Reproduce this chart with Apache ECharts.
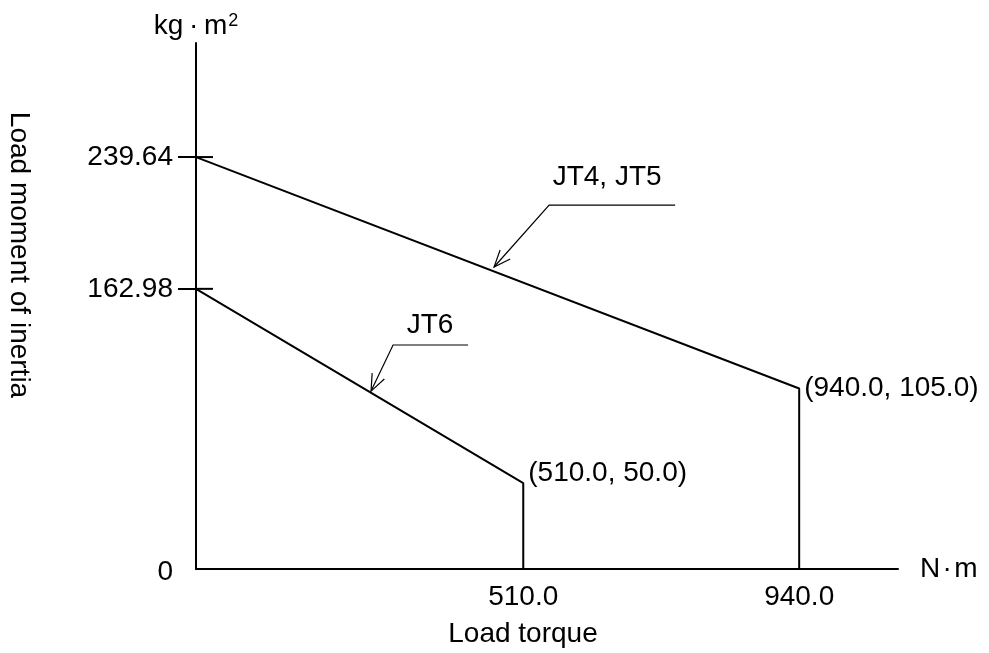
<!DOCTYPE html>
<html>
<head>
<meta charset="utf-8">
<script src="https://cdn.jsdelivr.net/npm/echarts@6/dist/echarts.min.js"></script>
<style>
  html, body { margin: 0; padding: 0; background: #fff; }
  #chart { width: 989px; height: 653px; }
</style>
</head>
<body>
<div id="chart"></div>
<script>
// --- data ---
var seriesNames = ['JT4, JT5', 'JT6'];
var jt45Points = [[0, 239.64], [940.0, 105.0], [940.0, 0]];
var jt6Points = [[0, 162.98], [510.0, 50.0], [510.0, 0]];
var yLabelValues = [0, 162.98, 239.64];
var yTickValues = [162.98, 239.64];
var xLabelValues = [510.0, 940.0];
// leader lines in data units: arrow tip, elbow, shelf end, label anchor
var jt45Leader = [464.5, 175.7, 550.3, 211.7, 746.7, 211.7, 640.7, 228.0];
var jt6Leader = [272.8, 103.5, 307.1, 130.3, 424.0, 130.3, 364.8, 141.9];

var font = 'Liberation Sans, Arial, sans-serif';
var ink = '#000';

function pointLabel(v) {
  return '(' + v[0].toFixed(1) + ', ' + v[1].toFixed(1) + ')';
}

function withCornerLabel(points, offset) {
  return points.map(function(p, i) {
    if (i !== 1) return p;
    return {
      value: p,
      label: {
        show: true,
        position: 'right',
        distance: 5,
        offset: offset,
        formatter: function(d) { return pointLabel(d.value); },
        color: ink,
        fontSize: 28,
        fontFamily: font
      }
    };
  });
}

function renderLeader(params, api) {
  var tip = api.coord([api.value(0), api.value(1)]);
  var elbow = api.coord([api.value(2), api.value(3)]);
  var end = api.coord([api.value(4), api.value(5)]);
  var lab = api.coord([api.value(6), api.value(7)]);
  var dx = elbow[0] - tip[0], dy = elbow[1] - tip[1];
  var len = Math.sqrt(dx * dx + dy * dy);
  dx /= len; dy /= len;
  var a = 22 * Math.PI / 180, arm = 18;
  function rot(s) {
    var c = Math.cos(s * a), n = Math.sin(s * a);
    return [tip[0] + arm * (dx * c - dy * n), tip[1] + arm * (dx * n + dy * c)];
  }
  var lineStyle = { stroke: ink, lineWidth: 1.2, fill: 'none' };
  return {
    type: 'group',
    children: [
      { type: 'polyline', shape: { points: [tip, elbow, end] }, style: lineStyle },
      { type: 'polyline', shape: { points: [rot(1), tip, rot(-1)] }, style: lineStyle },
      {
        type: 'text',
        x: lab[0], y: lab[1],
        style: {
          text: seriesNames[params.dataIndex],
          fill: ink, font: '28px ' + font,
          align: 'center', verticalAlign: 'middle'
        }
      }
    ]
  };
}

// inner half of the y ticks (the axis draws the outer half)
function renderInnerTick(params, api) {
  var p = api.coord([api.value(0), api.value(1)]);
  return {
    type: 'polyline',
    shape: { points: [[p[0], p[1]], [p[0] + 17, p[1]]] },
    style: { stroke: ink, lineWidth: 2, fill: 'none' }
  };
}

var chart = echarts.init(document.getElementById('chart'), null, { renderer: 'canvas' });
chart.setOption({
  animation: false,
  backgroundColor: '#fff',
  textStyle: { fontFamily: font, color: ink },
  grid: { left: 196, right: 91, top: 43, bottom: 84, containLabel: false },
  xAxis: {
    type: 'value',
    min: 0,
    max: 1094,
    name: 'N\u200a\u00b7\u200am',
    nameLocation: 'end',
    nameGap: 22,
    nameTextStyle: { fontSize: 28, color: ink, padding: [62, 0, 0, 0], fontFamily: font },
    axisLine: { show: true, lineStyle: { color: ink, width: 2 } },
    axisTick: { show: false },
    splitLine: { show: false },
    axisLabel: {
      customValues: xLabelValues,
      margin: 14,
      fontSize: 28,
      color: ink,
      formatter: function(v) { return v.toFixed(1); }
    }
  },
  yAxis: {
    type: 'value',
    min: 0,
    max: 306,
    name: '{b|kg\u2009\u00b7\u2009m}{s|2}',
    nameLocation: 'end',
    nameGap: 3,
    nameTextStyle: {
      align: 'center',
      rich: {
        b: { fontSize: 28, color: ink, fontFamily: font },
        s: { fontSize: 18, color: ink, fontFamily: font, verticalAlign: 'top', padding: [0, 0, 0, 1] }
      }
    },
    axisLine: { show: true, lineStyle: { color: ink, width: 2 } },
    axisTick: { show: true, customValues: yTickValues, length: 18, lineStyle: { color: ink, width: 2 } },
    splitLine: { show: false },
    axisLabel: {
      customValues: yLabelValues,
      margin: 23,
      fontSize: 28,
      color: ink,
      formatter: function(v) { return v === 0 ? '{z|0}' : String(v); },
      rich: { z: { fontSize: 28, color: ink, fontFamily: font, padding: [7, 0, 0, 0] } }
    }
  },
  graphic: [
    {
      type: 'text',
      x: 523, y: 634,
      style: { text: 'Load torque', font: '28px ' + font, fill: ink, align: 'center', verticalAlign: 'middle' }
    },
    {
      type: 'text',
      x: 19, y: 255,
      rotation: -Math.PI / 2,
      style: { text: 'Load moment of inertia', font: '28px ' + font, fill: ink, align: 'center', verticalAlign: 'middle' }
    }
  ],
  series: [
    {
      name: seriesNames[0],
      type: 'line',
      data: withCornerLabel(jt45Points, [0, 0]),
      showSymbol: true,
      symbol: 'circle',
      symbolSize: 0,
      lineStyle: { color: ink, width: 2 },
      itemStyle: { color: ink }
    },
    {
      name: seriesNames[1],
      type: 'line',
      data: withCornerLabel(jt6Points, [0, -10]),
      showSymbol: true,
      symbol: 'circle',
      symbolSize: 0,
      lineStyle: { color: ink, width: 2 },
      itemStyle: { color: ink }
    },
    {
      type: 'custom',
      renderItem: renderLeader,
      data: [jt45Leader, jt6Leader],
      silent: true
    },
    {
      type: 'custom',
      renderItem: renderInnerTick,
      data: yTickValues.map(function(v) { return [0, v]; }),
      silent: true,
      z: 5
    }
  ]
});
</script>
</body>
</html>
